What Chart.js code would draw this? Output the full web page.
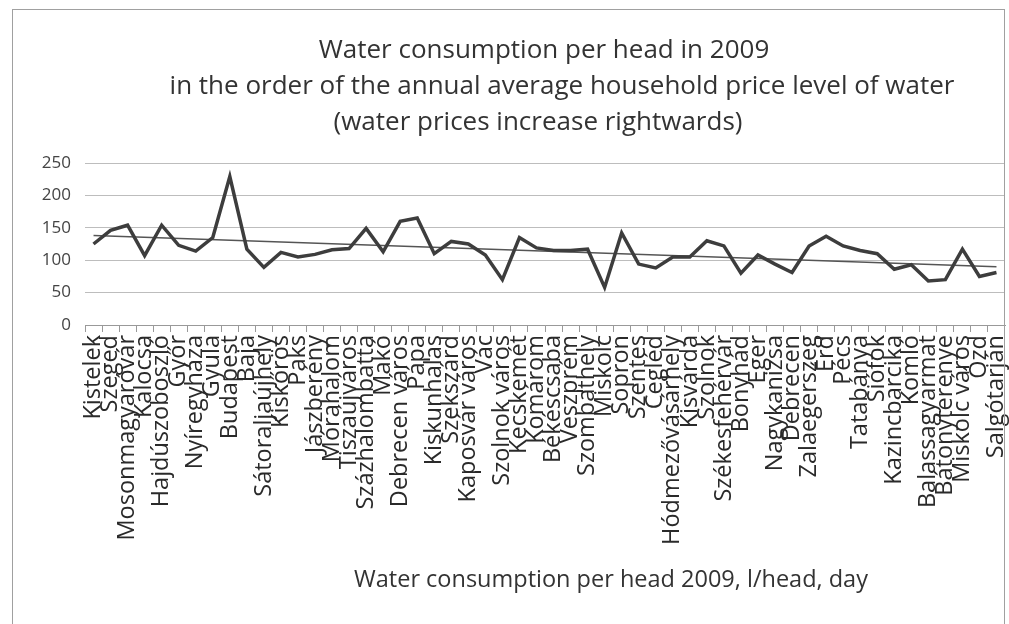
<!DOCTYPE html>
<html>
<head>
<meta charset="utf-8">
<script src="https://cdn.jsdelivr.net/npm/chart.js@4/dist/chart.umd.min.js"></script>
<style>
  html, body { margin: 0; padding: 0; background: #fff; }
  #wrap { position: relative; width: 1009px; height: 624px; overflow: hidden; }
  #frame { position: absolute; left: 12px; top: 9px; width: 993px; height: 640px; border: 1px solid #a0a0a0; box-sizing: border-box; pointer-events: none; }
</style>
</head>
<body>
<div id="wrap">
  <canvas id="waterChart" width="1009" height="624"></canvas>
  <div id="frame"></div>
</div>
<script>
// towns, ordered by household water price level (cheapest first)
const towns = [
  "Kistelek", "Szeged", "Mosonmagyaróvár", "Kalocsa", "Hajdúszoboszló", "Győr",
  "Nyíregyháza", "Gyula", "Budapest", "Baja", "Sátoraljaújhely", "Kiskőrös",
  "Paks", "Jászberény", "Mórahalom", "Tiszaújváros", "Százhalombatta", "Makó",
  "Debrecen város", "Pápa", "Kiskunhalas", "Szekszárd", "Kaposvár város", "Vác",
  "Szolnok város", "Kecskemét", "Komárom", "Békéscsaba", "Veszprém", "Szombathely",
  "Miskolc", "Sopron", "Szentes", "Cegléd", "Hódmezővásárhely", "Kisvárda",
  "Szolnok", "Székesfehérvár", "Bonyhád", "Eger", "Nagykanizsa", "Debrecen",
  "Zalaegerszeg", "Érd", "Pécs", "Tatabánya", "Siófok", "Kazincbarcika",
  "Komló", "Balassagyarmat", "Bátonyterenye", "Miskolc város", "Ózd", "Salgótarján"
];

// l/head/day
const consumption = [
  125, 146, 154, 107, 154, 123, 114, 135, 229, 117, 89, 112,
  105, 109, 116, 118, 149, 113, 160, 165, 110, 129, 125, 108,
  70, 135, 119, 115, 115, 117, 58, 142, 94, 88, 105, 105,
  130, 122, 80, 108, 94, 81, 122, 137, 122, 115, 110, 86,
  93, 68, 70, 117, 75, 81
];

// linear trendline ends as drawn in the picture
const trendEnds = [138, 90];

const yTicks = [0, 50, 100, 150, 200, 250];

const titleLines = [
  "Water consumption per head in 2009",
  "in the order of the annual average household price level of water",
  "(water prices increase rightwards)"
];
const xCaption = "Water consumption per head 2009, l/head, day";

const trend = towns.map((t, i) => {
  if (i === 0) return trendEnds[0];
  if (i === towns.length - 1) return trendEnds[1];
  return null;
});

// title and axis caption sit off-centre in the original, so draw them by hand
const captions = {
  id: "captions",
  afterDraw(chart) {
    const ctx = chart.ctx;
    const centres = [544, 562, 538];
    ctx.save();
    ctx.fillStyle = "#333";
    ctx.textAlign = "center";
    ctx.textBaseline = "middle";
    ctx.font = "26px 'Open Sans'";
    titleLines.forEach((line, i) => {
      ctx.fillText(line, centres[i], 51 + i * 36);
    });
    ctx.font = "23.5px 'Open Sans'";
    ctx.fillText(xCaption, 611, 580);
    ctx.restore();
  }
};

new Chart(document.getElementById("waterChart"), {
  type: "line",
  data: {
    labels: towns,
    datasets: [
      {
        label: "Consumption",
        data: consumption,
        borderColor: "#3d3d3d",
        borderWidth: 3.5,
        pointRadius: 0,
        tension: 0,
        order: 1
      },
      {
        label: "Trend",
        data: trend,
        spanGaps: true,
        borderColor: "#555",
        borderWidth: 1.5,
        pointRadius: 0,
        order: 2
      }
    ]
  },
  options: {
    responsive: false,
    animation: false,
    layout: { padding: { top: 163, right: 4, bottom: 29, left: 0 } },
    plugins: {
      legend: { display: false },
      tooltip: { enabled: false }
    },
    scales: {
      x: {
        offset: true,
        grid: { drawOnChartArea: false, offset: true, tickLength: 7, color: "#999" },
        border: { display: true, color: "#999", width: 1 },
        ticks: {
          autoSkip: false,
          minRotation: 90,
          maxRotation: 90,
          padding: 3,
          color: "#2a2a2a",
          font: { family: "'Open Sans'", size: 23.5 }
        },
        afterFit(scale) {
          scale.height = 270;
          scale.paddingLeft = 0;
          scale.paddingRight = 0;
        }
      },
      y: {
        min: 0,
        max: 250,
        afterBuildTicks(scale) { scale.ticks = yTicks.map(v => ({ value: v })); },
        grid: { color: "#bdbdbd", drawTicks: false },
        border: { display: false },
        ticks: {
          padding: 14,
          color: "#444",
          font: { family: "'Open Sans'", size: 17 }
        },
        afterFit(scale) { scale.width = 85; }
      }
    }
  },
  plugins: [captions]
});
</script>
</body>
</html>
